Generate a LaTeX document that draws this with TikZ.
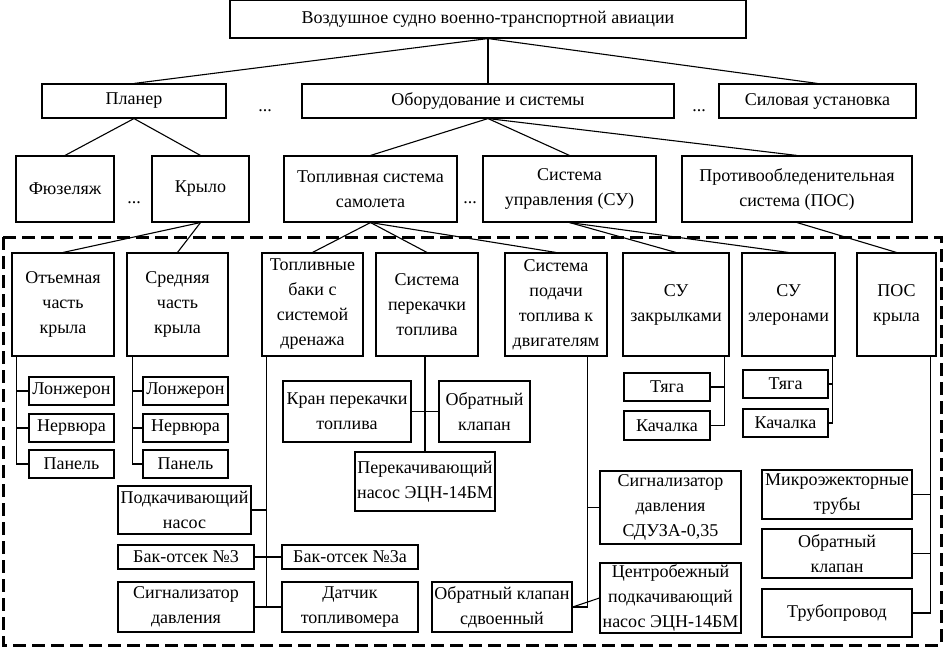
\documentclass[tikz,border=0pt]{standalone}
\usepackage{fontspec}
\setmainfont{Liberation Serif}
\begin{document}
\begin{tikzpicture}[x=1pt,y=-1pt,
  box/.style={draw, line width=1.1pt, align=center, inner sep=1pt, font=\fontsize{18}{25}\selectfont},
  link/.style={line width=1.1pt},
  dotsnode/.style={inner sep=0pt, anchor=base, font=\fontsize{18}{25}\selectfont},
  dashbox/.style={line width=3pt, dash pattern=on 13pt off 6pt}]
\useasboundingbox (0,0) rectangle (945,651);
\newcommand{\bx}[6]{\node[box, minimum width={#4-#2}, minimum height={#5-#3}] (#1) at ({(#2+#4)/2},{(#3+#5)/2}) {#6};}
% level 0-2
\bx{top}{230}{0}{746}{38}{Воздушное судно военно-транспортной авиации}
\bx{planer}{42}{84}{226}{118}{Планер}
\bx{oborud}{302}{84}{674}{118}{Оборудование и системы}
\bx{silov}{719}{84}{916}{118}{Силовая установка}
\bx{fuz}{16}{156}{114}{222}{Фюзеляж}
\bx{kryl}{152}{156}{249}{222}{Крыло}
\bx{topl}{284}{156}{457}{222}{Топливная система\\самолета}
\bx{su}{483}{156}{656}{222}{Система\\управления (СУ)}
\bx{pos}{682}{156}{912}{222}{Противообледенительная\\система (ПОС)}
\node[dotsnode] (d1) at (265,111) {...};
\node[dotsnode] (d2) at (699,111) {...};
\node[dotsnode] (d3) at (134,203) {...};
\node[dotsnode] (d4) at (470,203) {...};
% dashed frame
\draw[dashbox] (3,237) rectangle (941,645);
% level 3
\bx{otj}{12}{253}{114}{356}{Отъемная\\часть\\крыла}
\bx{sred}{127}{253}{228}{356}{Средняя\\часть\\крыла}
\bx{baki}{262}{253}{363}{356}{Топливные\\баки с\\системой\\дренажа}
\bx{perek}{376}{253}{478}{356}{Система\\перекачки\\топлива}
\bx{podachi}{505}{253}{607}{356}{Система\\подачи\\топлива к\\двигателям}
\bx{zakr}{623}{253}{729}{356}{СУ\\закрылками}
\bx{eler}{742}{253}{835}{356}{СУ\\элеронами}
\bx{poskr}{857}{253}{936}{356}{ПОС\\крыла}
% wing parts
\bx{lonA}{29}{377}{114}{405}{Лонжерон}
\bx{nerA}{29}{414}{114}{442}{Нервюра}
\bx{panA}{29}{450}{114}{478}{Панель}
\bx{lonB}{143}{377}{228}{405}{Лонжерон}
\bx{nerB}{143}{414}{228}{442}{Нервюра}
\bx{panB}{143}{450}{228}{478}{Панель}
% fuel tanks
\bx{podk}{118}{486}{251}{534}{Подкачивающий\\насос}
\bx{bak3}{118}{545}{254}{569}{Бак-отсек №3}
\bx{bak3a}{282}{545}{418}{569}{Бак-отсек №3а}
\bx{sigd}{118}{582}{254}{632}{Сигнализатор\\давления}
\bx{dat}{282}{582}{418}{632}{Датчик\\топливомера}
% transfer
\bx{kran}{283}{381}{411}{442}{Кран перекачки\\топлива}
\bx{obrk}{439}{381}{530}{442}{Обратный\\клапан}
\bx{pnas}{355}{452}{495}{511}{Перекачивающий\\насос ЭЦН-14БМ}
% feed
\bx{sdu}{600}{471}{741}{544}{Сигнализатор\\давления\\СДУЗА-0,35}
\bx{obrsdv}{432}{582}{572}{632}{Обратный клапан\\сдвоенный}
\bx{centr}{600}{563}{741}{633}{Центробежный\\подкачивающий\\насос ЭЦН-14БМ}
% control
\bx{tyA}{624}{373}{710}{401}{Тяга}
\bx{kaA}{624}{411}{710}{440}{Качалка}
\bx{tyB}{743}{370}{828}{398}{Тяга}
\bx{kaB}{743}{409}{828}{437}{Качалка}
% anti-ice
\bx{mikro}{762}{470}{912}{519}{Микроэжекторные\\трубы}
\bx{obrk2}{762}{529}{912}{578}{Обратный\\клапан}
\bx{trub}{762}{589}{912}{637}{Трубопровод}
% tree links
\draw[link] (top.south) -- (planer.north);
\draw[link] (top.south) -- (oborud.north);
\draw[link] (top.south) -- (silov.north);
\draw[link] (planer.south) -- (fuz.north);
\draw[link] (planer.south) -- (kryl.north);
\draw[link] (oborud.south) -- (topl.north);
\draw[link] (oborud.south) -- (su.north);
\draw[link] (oborud.south) -- (pos.north);
\draw[link] (kryl.south) -- (otj.north);
\draw[link] (kryl.south) -- (sred.north);
\draw[link] (topl.south) -- (baki.north);
\draw[link] (topl.south) -- (perek.north);
\draw[link] (topl.south) -- (podachi.north);
\draw[link] (su.south) -- (zakr.north);
\draw[link] (su.south) -- (eler.north);
\draw[link] (pos.south) -- (poskr.north);
% spines
\draw[link] (lonA.west) -| ([xshift=5pt]otj.south west);
\draw[link] (nerA.west) -| ([xshift=5pt]otj.south west);
\draw[link] (panA.west) -| ([xshift=5pt]otj.south west);
\draw[link] (lonB.west) -| ([xshift=6pt]sred.south west);
\draw[link] (nerB.west) -| ([xshift=6pt]sred.south west);
\draw[link] (panB.west) -| ([xshift=6pt]sred.south west);
\draw[link] (podk.east) -| ([xshift=5pt]baki.south west);
\draw[link] (bak3.east) -| ([xshift=5pt]baki.south west);
\draw[link] (sigd.east) -| ([xshift=5pt]baki.south west);
\draw[link] (bak3.east) -- (bak3a.west);
\draw[link] (sigd.east) -- (dat.west);
\draw[link] ([xshift=-2pt]perek.south) -- ([xshift=-2pt]perek.south |- pnas.north);
\draw[link] (kran.east) -- (obrk.west);
\draw[link] (sdu.west) -| ([xshift=-20pt]podachi.south east);
\draw[link] (obrsdv.east) -| ([xshift=-20pt]podachi.south east);
\draw[link] (obrsdv.east) -- (centr.west);
\draw[link] (tyA.east) -| ([xshift=-5pt]zakr.south east);
\draw[link] (kaA.east) -| ([xshift=-5pt]zakr.south east);
\draw[link] (tyB.east) -| ([xshift=-3pt]eler.south east);
\draw[link] (kaB.east) -| ([xshift=-3pt]eler.south east);
\draw[link] (mikro.east) -| ([xshift=-6pt]poskr.south east);
\draw[link] (obrk2.east) -| ([xshift=-6pt]poskr.south east);
\draw[link] (trub.east) -| ([xshift=-6pt]poskr.south east);
\end{tikzpicture}
\end{document}
